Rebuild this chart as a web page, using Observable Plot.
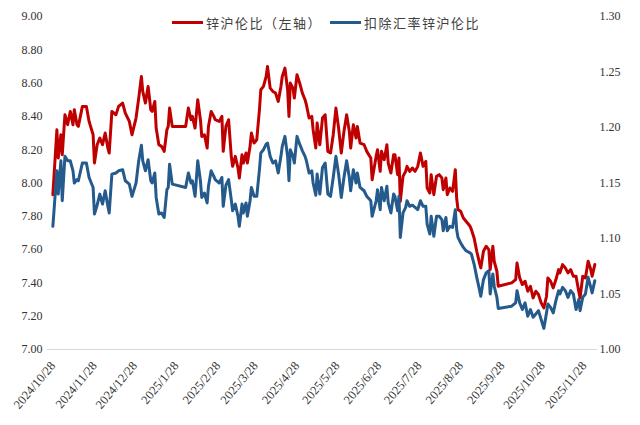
<!DOCTYPE html>
<html>
<head>
<meta charset="utf-8">
<script src="https://cdn.jsdelivr.net/npm/d3@7"></script>
<script src="https://cdn.jsdelivr.net/npm/@observablehq/plot@0.6"></script>
<style>
  html, body { margin: 0; padding: 0; background: #fff; }
  #wrap { position: relative; width: 640px; height: 425px; }
  #legend { position: absolute; top: 13px; left: 172px; display: flex; align-items: center;
    font-family: "Noto Sans CJK SC", sans-serif; font-size: 13px; color: #404040; letter-spacing: 1.5px; }
  .sw { display: inline-block; width: 31px; height: 3px; margin-right: 3px; }
</style>
</head>
<body>
<div id="wrap">
  <div id="chart"></div>
  <div id="legend">
    <span class="sw" style="background:#C00000"></span><span>锌沪伦比（左轴）</span>
    <span class="sw" style="background:#255A8C;margin-left:8px"></span><span>扣除汇率锌沪伦比</span>
  </div>
</div>
<script>
const dates = [
"2024-10-28","2024-10-31","2024-11-01","2024-11-03","2024-11-04","2024-11-06","2024-11-08","2024-11-10","2024-11-12","2024-11-13","2024-11-15","2024-11-16","2024-11-19","2024-11-22","2024-11-24","2024-11-27","2024-11-28","2024-11-30","2024-12-02","2024-12-04","2024-12-06","2024-12-08","2024-12-09","2024-12-11","2024-12-14","2024-12-16","2024-12-19","2024-12-21","2024-12-24","2024-12-26","2024-12-29","2024-12-31",
"2025-01-02","2025-01-03","2025-01-05","2025-01-07","2025-01-09","2025-01-10","2025-01-12","2025-01-13","2025-01-15","2025-01-17","2025-01-19","2025-01-21","2025-01-22","2025-01-23","2025-01-25",
"2025-02-04","2025-02-06","2025-02-08","2025-02-09","2025-02-11","2025-02-13","2025-02-15","2025-02-16","2025-02-18","2025-02-20","2025-02-21","2025-02-23","2025-02-25","2025-02-26",
"2025-03-01","2025-03-03","2025-03-04","2025-03-06","2025-03-08","2025-03-10","2025-03-11","2025-03-13","2025-03-15","2025-03-16","2025-03-18","2025-03-19","2025-03-21","2025-03-22","2025-03-24","2025-03-25","2025-03-27","2025-03-29","2025-03-31",
"2025-04-01","2025-04-03","2025-04-05","2025-04-06","2025-04-08","2025-04-10","2025-04-12","2025-04-14","2025-04-16","2025-04-17","2025-04-19","2025-04-21","2025-04-22","2025-04-23","2025-04-25","2025-04-26","2025-04-28","2025-04-30",
"2025-05-02","2025-05-04","2025-05-05","2025-05-07","2025-05-09","2025-05-10","2025-05-12","2025-05-13","2025-05-15","2025-05-17","2025-05-19","2025-05-21","2025-05-23","2025-05-25","2025-05-27","2025-05-29","2025-05-31",
"2025-06-02","2025-06-04","2025-06-06","2025-06-07","2025-06-09","2025-06-11","2025-06-12","2025-06-14","2025-06-17","2025-06-19","2025-06-22","2025-06-23","2025-06-26","2025-06-27","2025-06-29","2025-06-30",
"2025-07-02","2025-07-04","2025-07-05","2025-07-07","2025-07-09","2025-07-10","2025-07-12","2025-07-13","2025-07-14","2025-07-16","2025-07-18","2025-07-19","2025-07-21","2025-07-23","2025-07-25","2025-07-27","2025-07-29","2025-07-31",
"2025-08-02","2025-08-03","2025-08-05","2025-08-06","2025-08-08","2025-08-10","2025-08-12","2025-08-14","2025-08-15","2025-08-17","2025-08-18","2025-08-20","2025-08-22","2025-08-24","2025-08-25","2025-08-26","2025-08-28","2025-08-30",
"2025-09-01","2025-09-04","2025-09-05","2025-09-07","2025-09-09","2025-09-11","2025-09-12","2025-09-14","2025-09-16","2025-09-18","2025-09-19","2025-09-21","2025-09-22","2025-09-24","2025-09-25",
"2025-10-05","2025-10-08","2025-10-09","2025-10-11","2025-10-13","2025-10-15","2025-10-17","2025-10-19","2025-10-21","2025-10-23","2025-10-25","2025-10-27","2025-10-29","2025-10-31",
"2025-11-01","2025-11-03","2025-11-05","2025-11-07","2025-11-09","2025-11-10","2025-11-12","2025-11-14","2025-11-16","2025-11-18","2025-11-20","2025-11-22","2025-11-24","2025-11-25","2025-11-27","2025-11-29",
"2025-12-01","2025-12-03","2025-12-04","2025-12-06"
];

// 锌沪伦比（左轴）
const zincRatio = [
7.93,8.32,8.15,8.29,8.17,8.41,8.35,8.43,8.35,8.44,8.35,8.34,8.46,8.46,8.37,8.29,8.12,8.23,8.27,8.23,8.30,8.21,8.18,8.43,8.41,8.46,8.48,8.42,8.37,8.29,8.39,8.51,
8.64,8.55,8.48,8.58,8.44,8.43,8.49,8.33,8.23,8.22,8.19,8.32,8.34,8.45,8.34,
8.34,8.45,8.38,8.40,8.33,8.50,8.38,8.28,8.29,8.21,8.34,8.43,8.40,8.38,
8.37,8.40,8.19,8.34,8.38,8.16,8.10,8.16,8.09,8.03,8.17,8.12,8.18,8.12,8.22,8.30,8.24,8.26,8.44,
8.56,8.58,8.64,8.70,8.57,8.55,8.54,8.49,8.58,8.64,8.69,8.56,8.40,8.60,8.57,8.51,8.65,8.60,
8.54,8.50,8.47,8.39,8.40,8.32,8.21,8.36,8.23,8.39,8.41,8.19,8.18,8.29,8.45,8.33,8.18,
8.31,8.41,8.31,8.21,8.35,8.27,8.34,8.24,8.23,8.19,8.15,8.02,8.16,8.20,8.07,8.19,
8.14,8.23,8.12,8.06,8.17,8.17,8.05,8.15,7.89,8.04,8.07,8.10,8.07,8.09,8.07,8.10,8.18,8.10,
8.13,7.97,7.94,8.05,7.93,8.04,8.05,8.03,7.96,8.03,7.93,7.97,7.95,8.08,7.91,7.84,7.83,7.79,
7.77,7.74,7.72,7.67,7.59,7.52,7.49,7.59,7.62,7.60,7.48,7.62,7.53,7.47,7.38,
7.40,7.42,7.52,7.43,7.39,7.41,7.35,7.38,7.31,7.35,7.33,7.28,7.25,7.32,
7.43,7.41,7.37,7.42,7.48,7.46,7.51,7.49,7.46,7.48,7.44,7.44,7.35,7.31,7.44,7.43,
7.53,7.48,7.44,7.51
];

// 扣除汇率锌沪伦比（右轴）
const exRatio = [
1.111,1.161,1.140,1.170,1.134,1.174,1.170,1.170,1.161,1.150,1.153,1.152,1.168,1.168,1.155,1.146,1.122,1.130,1.140,1.131,1.143,1.129,1.123,1.158,1.159,1.161,1.162,1.152,1.149,1.138,1.150,1.170,
1.184,1.170,1.161,1.171,1.152,1.150,1.159,1.137,1.122,1.123,1.119,1.144,1.146,1.167,1.149,
1.146,1.159,1.150,1.152,1.138,1.170,1.152,1.137,1.141,1.132,1.147,1.161,1.156,1.153,
1.150,1.155,1.129,1.148,1.153,1.135,1.125,1.131,1.120,1.111,1.131,1.123,1.132,1.120,1.134,1.146,1.138,1.138,1.162,
1.177,1.180,1.185,1.186,1.174,1.168,1.170,1.159,1.174,1.183,1.192,1.174,1.152,1.180,1.174,1.168,1.192,1.185,
1.179,1.174,1.170,1.159,1.161,1.150,1.139,1.158,1.140,1.164,1.168,1.140,1.138,1.155,1.174,1.158,1.137,
1.155,1.170,1.155,1.143,1.162,1.150,1.159,1.146,1.143,1.138,1.134,1.120,1.134,1.144,1.126,1.146,
1.134,1.147,1.132,1.123,1.140,1.138,1.125,1.138,1.101,1.123,1.128,1.134,1.129,1.130,1.128,1.126,1.134,1.129,
1.129,1.113,1.104,1.120,1.102,1.120,1.120,1.117,1.107,1.119,1.107,1.111,1.110,1.126,1.108,1.101,1.096,1.092,
1.089,1.087,1.086,1.077,1.065,1.054,1.048,1.063,1.069,1.071,1.050,1.068,1.057,1.047,1.037,
1.039,1.042,1.053,1.042,1.036,1.042,1.030,1.036,1.029,1.032,1.035,1.027,1.019,1.033,
1.041,1.038,1.033,1.044,1.053,1.050,1.056,1.053,1.047,1.053,1.050,1.036,1.045,1.035,1.047,1.050,
1.065,1.056,1.051,1.062
];

const xTickLabels = ["2024-10-28","2024-11-28","2024-12-28","2025-01-28","2025-02-28","2025-03-28","2025-04-28","2025-05-28","2025-06-28","2025-07-28","2025-08-28","2025-09-28","2025-10-28","2025-11-28"];
const leftTicks = [7.0,7.2,7.4,7.6,7.8,8.0,8.2,8.4,8.6,8.8,9.0];
const rightTicks = [1.00,1.05,1.10,1.15,1.20,1.25,1.30];

const leftDomain = [7, 9];
const rightDomain = [1.0, 1.3];
const toLeft = v => leftDomain[0] + (v - rightDomain[0]) / (rightDomain[1] - rightDomain[0]) * (leftDomain[1] - leftDomain[0]);
const toRight = v => rightDomain[0] + (v - leftDomain[0]) / (leftDomain[1] - leftDomain[0]) * (rightDomain[1] - rightDomain[0]);

const data = dates.map((d, i) => ({date: new Date(d), red: zincRatio[i], blue: exRatio[i]}));
const fmt = d3.utcFormat("%Y/%-m/%-d");
const font = "'Liberation Serif', 'Times New Roman', serif";

const chart = Plot.plot({
  width: 640,
  height: 425,
  marginTop: 16,
  marginBottom: 76,
  marginLeft: 47,
  marginRight: 43,
  style: {fontFamily: font, fontSize: "12px", color: "#333", background: "#fff"},
  x: {type: "utc", domain: [new Date("2024-10-24"), new Date("2025-12-08")]},
  y: {domain: leftDomain},
  marks: [
    Plot.ruleY([7], {stroke: "#d9d9d9", strokeWidth: 1}),
    Plot.axisY({ticks: leftTicks, tickFormat: d => d.toFixed(2), tickSize: 0, tickPadding: 5, label: null, anchor: "left"}),
    Plot.axisY({ticks: rightTicks.map(toLeft), tickFormat: d => toRight(d).toFixed(2), tickSize: 0, tickPadding: 2, label: null, anchor: "right"}),
    Plot.axisX({ticks: xTickLabels.map(d => new Date(d)), tickFormat: fmt, tickRotate: -50, tickSize: 0, tickPadding: 14, label: null, fontSize: 12.5}),
    Plot.lineY(data, {x: "date", y: "red", stroke: "#C00000", strokeWidth: 3, strokeLinejoin: "round"}),
    Plot.lineY(data, {x: "date", y: d => toLeft(d.blue), stroke: "#255A8C", strokeWidth: 3, strokeLinejoin: "round"})
  ]
});
document.getElementById("chart").appendChild(chart);
</script>
</body>
</html>
